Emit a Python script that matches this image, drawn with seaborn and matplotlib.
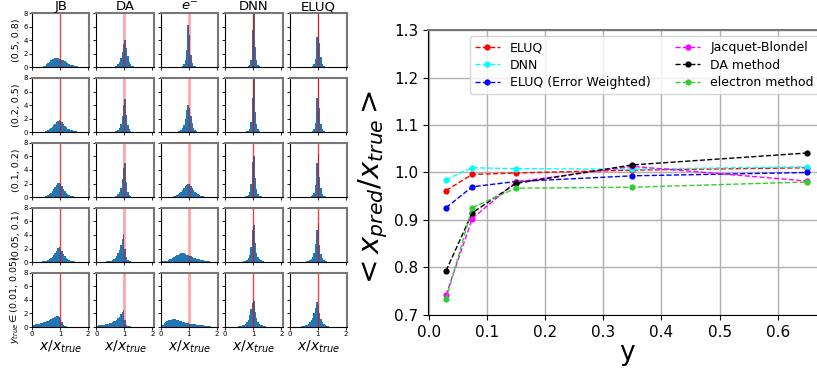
import numpy as np
import pandas as pd
import seaborn as sns
import matplotlib
matplotlib.use("Agg")
import matplotlib.pyplot as plt

# ---- line plot data (right panel) ----
y_bins = [0.03, 0.075, 0.15, 0.35, 0.65]
eluq = [0.962, 0.996, 0.999, 1.005, 1.010]
dnn = [0.985, 1.010, 1.008, 1.007, 1.012]
eluq_ew = [0.926, 0.970, 0.981, 0.993, 1.000]
jacquet_blondel = [0.742, 0.903, 0.980, 1.013, 0.982]
da_method = [0.793, 0.915, 0.977, 1.016, 1.041]
electron_method = [0.733, 0.926, 0.967, 0.969, 0.980]

# ---- histogram data (left grid), density per 0.05 bin over 0..2 ----
methods = ["JB", "DA", "$e^{-}$", "DNN", "ELUQ"]
row_labels = ["(0.5, 0.8)", "(0.2, 0.5)", "(0.1, 0.2)", "(0.05, 0.1)",
              "$y_{true} \\in$(0.01, 0.05)"]

jb_hist = [
    [0, 0, 0, 0, 0, 0, 0, 0, 0.1, 0.2, 0.4, 0.6, 0.8, 1.0, 1.15, 1.25, 1.3, 1.3, 1.3, 1.25,
     1.2, 1.1, 1.0, 0.85, 0.7, 0.55, 0.45, 0.35, 0.3, 0.25, 0.2, 0.15, 0.1, 0.05, 0, 0, 0, 0, 0, 0],
    [0, 0, 0, 0, 0, 0, 0, 0, 0.05, 0.1, 0.2, 0.3, 0.45, 0.6, 0.8, 1.0, 1.25, 1.5, 1.7, 1.8,
     1.65, 1.45, 1.15, 0.9, 0.7, 0.5, 0.4, 0.3, 0.25, 0.2, 0.15, 0.1, 0.05, 0, 0, 0, 0, 0, 0, 0],
    [0, 0, 0, 0, 0, 0.05, 0.05, 0.05, 0.05, 0.1, 0.15, 0.25, 0.4, 0.6, 0.85, 1.15, 1.5, 1.85, 2.1, 2.15,
     1.95, 1.6, 1.25, 0.9, 0.65, 0.45, 0.3, 0.2, 0.15, 0.1, 0.07, 0.05, 0, 0, 0, 0, 0, 0, 0, 0],
    [0.05, 0.05, 0.05, 0.05, 0.05, 0.05, 0.05, 0.08, 0.1, 0.15, 0.2, 0.3, 0.45, 0.6, 0.8, 1.05, 1.35, 1.7, 2.05, 2.2,
     2.0, 1.6, 1.2, 0.85, 0.6, 0.4, 0.3, 0.2, 0.15, 0.1, 0.08, 0.05, 0.05, 0.05, 0.05, 0.05, 0, 0, 0, 0],
    [0.3, 0.35, 0.38, 0.4, 0.45, 0.5, 0.55, 0.6, 0.68, 0.75, 0.85, 0.95, 1.05, 1.15, 1.3, 1.4, 1.5, 1.58, 1.62, 1.55,
     1.2, 0.7, 0.35, 0.15, 0.1, 0.06, 0.06, 0.06, 0.06, 0.06, 0.06, 0.06, 0.06, 0.06, 0.06, 0.03, 0.03, 0.03, 0.03, 0.03],
]
da_hist = [
    [0, 0, 0, 0, 0, 0, 0, 0, 0, 0, 0, 0, 0, 0.1, 0.2, 0.4, 0.7, 1.3, 2.2, 3.4,
     4.0, 2.8, 1.6, 0.8, 0.4, 0.2, 0.1, 0, 0, 0, 0, 0, 0, 0, 0, 0, 0, 0, 0, 0],
    [0, 0, 0, 0, 0, 0, 0, 0, 0, 0, 0, 0, 0, 0.1, 0.15, 0.3, 0.6, 1.2, 2.4, 4.0,
     4.9, 2.5, 1.0, 0.4, 0.15, 0, 0, 0, 0, 0, 0, 0, 0, 0, 0, 0, 0, 0, 0, 0],
    [0, 0, 0, 0, 0, 0, 0, 0, 0, 0, 0, 0, 0.08, 0.12, 0.2, 0.4, 0.7, 1.3, 2.6, 4.3,
     5.0, 2.2, 0.8, 0.3, 0.15, 0.08, 0, 0, 0, 0, 0, 0, 0, 0, 0, 0, 0, 0, 0, 0],
    [0.05, 0.05, 0.05, 0.05, 0.05, 0.05, 0.05, 0.08, 0.1, 0.15, 0.2, 0.3, 0.45, 0.65, 0.9, 1.3, 1.8, 2.5, 3.4, 4.2,
     2.0, 0.7, 0.3, 0.15, 0.1, 0.05, 0.05, 0.05, 0.05, 0.05, 0.05, 0.05, 0.05, 0.05, 0.05, 0, 0, 0, 0, 0],
    [0.2, 0.25, 0.28, 0.3, 0.33, 0.36, 0.4, 0.45, 0.5, 0.56, 0.63, 0.72, 0.82, 0.95, 1.1, 1.3, 1.55, 1.85, 2.2, 2.5,
     1.0, 0.35, 0.15, 0.1, 0.08, 0.06, 0.06, 0.06, 0.06, 0.06, 0.06, 0.06, 0.06, 0.06, 0.06, 0, 0, 0, 0, 0],
]
el_hist = [
    [0, 0, 0, 0, 0, 0, 0, 0, 0, 0, 0, 0, 0, 0, 0, 0.15, 0.4, 1.0, 2.5, 6.3,
     4.8, 1.8, 0.6, 0.2, 0.1, 0, 0, 0, 0, 0, 0, 0, 0, 0, 0, 0, 0, 0, 0, 0],
    [0, 0, 0, 0, 0, 0, 0, 0, 0, 0, 0, 0, 0.1, 0.15, 0.3, 0.6, 1.1, 2.0, 3.2, 4.0,
     3.6, 2.4, 1.3, 0.6, 0.3, 0.15, 0, 0, 0, 0, 0, 0, 0, 0, 0, 0, 0, 0, 0, 0],
    [0, 0, 0, 0, 0, 0, 0, 0, 0.05, 0.1, 0.15, 0.25, 0.4, 0.55, 0.75, 1.0, 1.3, 1.6, 1.85, 2.0,
     1.9, 1.6, 1.3, 1.0, 0.75, 0.55, 0.4, 0.3, 0.2, 0.15, 0.1, 0.07, 0.05, 0, 0, 0, 0, 0, 0, 0],
    [0.05, 0.08, 0.1, 0.15, 0.2, 0.3, 0.4, 0.5, 0.6, 0.75, 0.9, 1.0, 1.1, 1.2, 1.28, 1.3, 1.3, 1.2, 1.1, 1.0,
     0.95, 0.85, 0.75, 0.65, 0.55, 0.5, 0.45, 0.4, 0.35, 0.3, 0.25, 0.2, 0.15, 0.1, 0.08, 0.05, 0, 0, 0, 0],
    [0.15, 0.35, 0.55, 0.75, 0.9, 1.0, 1.05, 1.1, 1.12, 1.15, 1.12, 1.08, 1.0, 0.92, 0.85, 0.78, 0.72, 0.66, 0.6, 0.55,
     0.5, 0.46, 0.42, 0.4, 0.37, 0.35, 0.33, 0.3, 0.28, 0.26, 0.24, 0.22, 0.2, 0.18, 0.15, 0.1, 0.05, 0, 0, 0],
]
dnn_hist = [
    [0, 0, 0, 0, 0, 0, 0, 0, 0, 0, 0, 0, 0, 0, 0, 0, 0.1, 0.3, 1.0, 5.5,
     7.8, 3.0, 1.0, 0.3, 0.1, 0, 0, 0, 0, 0, 0, 0, 0, 0, 0, 0, 0, 0, 0, 0],
    [0, 0, 0, 0, 0, 0, 0, 0, 0, 0, 0, 0, 0, 0, 0, 0.1, 0.2, 0.5, 1.5, 5.0,
     7.8, 3.0, 1.2, 0.4, 0.15, 0, 0, 0, 0, 0, 0, 0, 0, 0, 0, 0, 0, 0, 0, 0],
    [0, 0, 0, 0, 0, 0, 0, 0, 0, 0, 0, 0, 0, 0, 0.1, 0.15, 0.3, 0.7, 2.0, 5.2,
     6.0, 2.8, 1.2, 0.5, 0.2, 0.1, 0, 0, 0, 0, 0, 0, 0, 0, 0, 0, 0, 0, 0, 0],
    [0, 0, 0, 0, 0, 0, 0.05, 0.05, 0.05, 0.05, 0.05, 0.05, 0.05, 0.12, 0.2, 0.35, 0.6, 1.0, 2.2, 4.8,
     5.5, 2.8, 1.4, 0.7, 0.4, 0.25, 0.15, 0.1, 0.05, 0.05, 0.05, 0.05, 0.05, 0.05, 0.05, 0.05, 0, 0, 0, 0],
    [0.05, 0.05, 0.05, 0.05, 0.05, 0.05, 0.05, 0.05, 0.05, 0.1, 0.12, 0.18, 0.25, 0.35, 0.5, 0.7, 1.1, 1.7, 2.6, 3.6,
     3.9, 2.2, 1.3, 0.8, 0.5, 0.35, 0.25, 0.18, 0.12, 0.05, 0.05, 0.05, 0.05, 0.05, 0.05, 0.05, 0.05, 0.05, 0, 0],
]
eluq_hist = [
    [0, 0, 0, 0, 0, 0, 0, 0, 0, 0, 0, 0, 0, 0, 0, 0, 0.15, 0.4, 1.2, 4.5,
     7.8, 3.5, 1.5, 0.5, 0.2, 0, 0, 0, 0, 0, 0, 0, 0, 0, 0, 0, 0, 0, 0, 0],
    [0, 0, 0, 0, 0, 0, 0, 0, 0, 0, 0, 0, 0, 0, 0, 0, 0.15, 0.4, 1.3, 5.0,
     7.8, 3.5, 1.2, 0.4, 0.15, 0, 0, 0, 0, 0, 0, 0, 0, 0, 0, 0, 0, 0, 0, 0],
    [0, 0, 0, 0, 0, 0, 0, 0, 0, 0, 0, 0, 0, 0, 0, 0.15, 0.3, 0.6, 1.8, 5.0,
     6.3, 3.0, 1.3, 0.5, 0.2, 0.1, 0, 0, 0, 0, 0, 0, 0, 0, 0, 0, 0, 0, 0, 0],
    [0, 0, 0, 0, 0, 0, 0.05, 0.05, 0.05, 0.05, 0.05, 0.05, 0.1, 0.15, 0.25, 0.4, 0.7, 1.3, 2.6, 4.8,
     5.7, 2.5, 1.2, 0.6, 0.35, 0.2, 0.12, 0.05, 0.05, 0.05, 0.05, 0.05, 0.05, 0.05, 0.05, 0.05, 0, 0, 0, 0],
    [0.05, 0.05, 0.05, 0.05, 0.05, 0.05, 0.05, 0.05, 0.1, 0.12, 0.18, 0.25, 0.35, 0.5, 0.7, 1.0, 1.4, 2.0, 2.8, 3.7,
     3.2, 2.0, 1.2, 0.7, 0.45, 0.3, 0.2, 0.15, 0.05, 0.05, 0.05, 0.05, 0.05, 0.05, 0.05, 0.05, 0.05, 0.05, 0, 0],
]
all_hists = [jb_hist, da_hist, el_hist, dnn_hist, eluq_hist]

# red reference line style per column
line_alpha = [0.75, 0.35, 0.35, 0.75, 0.75]
line_width = [1.0, 2.0, 2.0, 1.0, 1.0]

fig = plt.figure(figsize=(8.17, 3.68), dpi=100)
gs = fig.add_gridspec(5, 5, left=32/817, right=347/817, top=1-13/368,
                      bottom=1-327/368, wspace=0.12, hspace=0.2)

centers = np.arange(40) * 0.05 + 0.025
for r in range(5):
    for c in range(5):
        ax = fig.add_subplot(gs[r, c])
        df = pd.DataFrame({"x": centers, "w": all_hists[c][r]})
        sns.histplot(data=df, x="x", weights="w", binwidth=0.05, binrange=(0, 2),
                     ax=ax, color="#1f77b4", alpha=1, linewidth=0)
        ax.axvline(1, color="red", alpha=line_alpha[c], lw=line_width[c])
        ax.set_xlim(0, 2.05)
        ax.set_ylim(0, 8)
        ax.set_xticks([0, 1, 2])
        ax.set_yticks([0, 2, 4, 6, 8])
        ax.tick_params(labelsize=5, length=2, pad=1, width=0.6)
        for s in ["top", "right"]:
            ax.spines[s].set_color("#777777")
            ax.spines[s].set_linewidth(1.5)
        ax.set_ylabel("")
        ax.set_xlabel("")
        if c == 0:
            ax.set_ylabel(row_labels[r], fontsize=6.8, labelpad=2)
        else:
            ax.set_yticklabels([])
        if r == 4:
            ax.set_xlabel("$x/x_{true}$", fontsize=10, labelpad=1)
        else:
            ax.set_xticklabels([])
        if r == 0:
            ax.set_title(methods[c], fontsize=9.5, pad=0.5)

# ---- right panel ----
axr = fig.add_axes([428/817, 53/368, 397/817, 285/368])
series = [
    ("ELUQ", eluq, "red"),
    ("DNN", dnn, "cyan"),
    ("ELUQ (Error Weighted)", eluq_ew, "blue"),
    ("Jacquet-Blondel", jacquet_blondel, "magenta"),
    ("DA method", da_method, "black"),
    ("electron method", electron_method, "limegreen"),
]
for name, vals, col in series:
    sns.lineplot(x=y_bins, y=vals, ax=axr, color=col, marker="o", markersize=4.5,
                 markeredgewidth=0, linestyle="--", linewidth=1, label=name)

axr.set_xlim(-0.001, 0.681)
axr.set_ylim(0.7, 1.3)
axr.set_xticks([0.0, 0.1, 0.2, 0.3, 0.4, 0.5, 0.6])
axr.set_yticks([0.7, 0.8, 0.9, 1.0, 1.1, 1.2, 1.3])
axr.grid(True, color="#b0b0b0", lw=1)
axr.set_axisbelow(True)
axr.tick_params(labelsize=11)
for s in ["top", "right"]:
    axr.spines[s].set_color("#777777")
    axr.spines[s].set_linewidth(1.5)
axr.set_xlabel("y", fontsize=19, labelpad=0)
axr.set_ylabel("$<x_{pred}/x_{true}>$", fontsize=21)
axr.yaxis.set_label_coords(-0.095, 0.44)
axr.legend(loc="upper right", ncol=2, fontsize=9, columnspacing=2.0,
           handlelength=2.0, labelspacing=0.35, borderaxespad=0.5)

plt.savefig("out.png", dpi=100)
